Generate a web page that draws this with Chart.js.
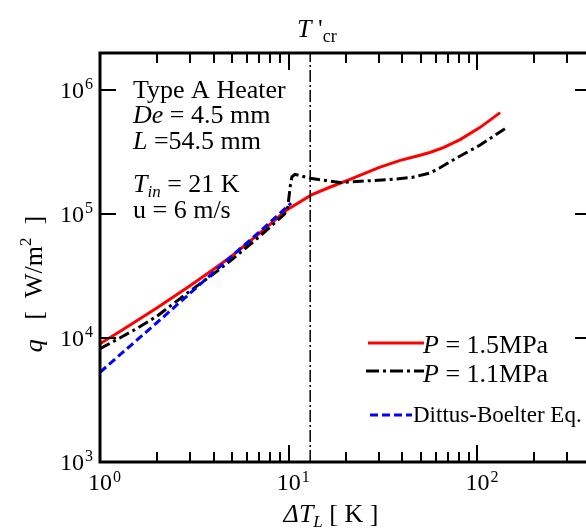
<!DOCTYPE html>
<html>
<head>
<meta charset="utf-8">
<script src="https://cdn.jsdelivr.net/npm/chart.js@4.4.1/dist/chart.umd.min.js"></script>
<style>
html, body { margin: 0; padding: 0; background: #fff; overflow: hidden; }
#wrap { width: 600px; height: 530px; }
</style>
</head>
<body>
<div id="wrap"><canvas id="grafico" width="600" height="530"></canvas></div>
<script>
// P = 1.5 MPa
const redX = [1, 1.3, 2, 3, 4, 5, 7, 9.76, 13.2, 16.5, 21, 24, 30, 39, 48, 56, 66, 81, 103, 132];
const redQ = [9.0e3, 1.15e4, 1.75e4, 2.65e4, 3.6e4, 4.6e4, 7.0e4, 1.08e5, 1.43e5, 1.65e5, 1.9e5, 2.07e5, 2.38e5, 2.72e5, 2.95e5, 3.15e5, 3.45e5, 4.0e5, 5.0e5, 6.6e5];
// P = 1.1 MPa
const blackX = [1, 1.5, 2, 3, 4, 5, 7, 9.5, 9.9, 10.2, 10.4, 10.8, 13, 18.7, 25, 34, 45, 56, 63, 81, 103, 143];
const blackQ = [8.2e3, 1.15e4, 1.5e4, 2.4e4, 3.3e4, 4.3e4, 6.6e4, 1.0e5, 1.15e5, 1.7e5, 2.0e5, 2.1e5, 1.95e5, 1.8e5, 1.85e5, 1.9e5, 1.98e5, 2.15e5, 2.36e5, 2.95e5, 3.6e5, 5.0e5];
// Dittus-Boelter
const dbX = [1, 2, 3, 5, 7, 10.3];
const dbQ = [5.3e3, 1.33e4, 2.3e4, 4.6e4, 7.2e4, 1.23e5];
// T'cr
const tcrX = [13, 13];
const tcrQ = [1e3, 2e6];

const xMajor = [1, 10, 100];
const xMinor = [2, 3, 4, 5, 6, 7, 8, 9, 20, 30, 40, 50, 60, 70, 80, 90, 200, 300];
const yMajor = [1e3, 1e4, 1e5, 1e6];
const xExp = ['0', '1', '2'];
const yExp = ['3', '4', '5', '6'];

const SERIF = '"Liberation Serif", "Times New Roman", serif';

function puntos(xs, ys) {
    return xs.map((x, i) => ({ x: x, y: ys[i] }));
}

// dibuja varios trozos de texto con estilos distintos
function trozos(ctx, x, y, partes, align) {
    let w = 0;
    partes.forEach(p => { ctx.font = p[1]; w += ctx.measureText(p[0]).width; });
    let cx = align === 'center' ? x - w / 2 : (align === 'right' ? x - w : x);
    partes.forEach(p => {
        ctx.font = p[1];
        ctx.fillText(p[0], cx, y + (p[2] || 0));
        cx += ctx.measureText(p[0]).width;
    });
}

const marco = {
    id: 'marco',
    afterDraw(chart) {
        const ctx = chart.ctx;
        const a = chart.chartArea;
        const sx = chart.scales.x;
        const sy = chart.scales.y;
        ctx.save();
        ctx.strokeStyle = '#000';
        ctx.fillStyle = '#000';
        ctx.lineWidth = 3;
        ctx.setLineDash([]);
        ctx.strokeRect(a.left, a.top, a.right - a.left, a.bottom - a.top);

        // ticks hacia dentro
        ctx.lineWidth = 2;
        ctx.beginPath();
        xMajor.forEach(v => {
            const px = Math.round(sx.getPixelForValue(v));
            ctx.moveTo(px, a.bottom); ctx.lineTo(px, a.bottom - 17);
            ctx.moveTo(px, a.top); ctx.lineTo(px, a.top + 17);
        });
        xMinor.forEach(v => {
            const px = Math.round(sx.getPixelForValue(v));
            ctx.moveTo(px, a.bottom); ctx.lineTo(px, a.bottom - 10);
            ctx.moveTo(px, a.top); ctx.lineTo(px, a.top + 10);
        });
        yMajor.forEach(v => {
            const py = Math.round(sy.getPixelForValue(v));
            ctx.moveTo(a.left, py); ctx.lineTo(a.left + 16, py);
            ctx.moveTo(a.right, py); ctx.lineTo(a.right - 16, py);
        });
        ctx.stroke();

        // etiquetas de los ejes
        ctx.textBaseline = 'alphabetic';
        const fBig = '24px ' + SERIF;
        const fExp = '16px ' + SERIF;
        xMajor.forEach((v, i) => {
            const px = sx.getPixelForValue(v);
            ctx.font = fBig;
            const w10 = ctx.measureText('10').width;
            ctx.fillText('10', px - w10 / 2, 490);
            ctx.font = fExp;
            ctx.fillText(xExp[i], px + w10 / 2 + 1, 482);
        });
        yMajor.forEach((v, i) => {
            const py = sy.getPixelForValue(v);
            ctx.font = fExp;
            const we = ctx.measureText(yExp[i]).width;
            ctx.fillText(yExp[i], 93 - we, py - 1);
            ctx.font = fBig;
            const w10 = ctx.measureText('10').width;
            ctx.fillText('10', 93 - we - 1 - w10, py + 8);
        });

        const f26 = '26px ' + SERIF;
        const i26 = 'italic 26px ' + SERIF;
        const i17 = 'italic 17px ' + SERIF;
        const f18 = '18px ' + SERIF;

        // titulo eje x
        trozos(ctx, 331, 522, [['\u0394T', i26], ['L', i17, 5], [' [ K ]', f26]], 'center');

        // titulo eje y
        ctx.save();
        ctx.translate(42, 284);
        ctx.rotate(-Math.PI / 2);
        trozos(ctx, 0, 0, [['q', i26], ['   [  W/m', f26], ['2', '17px ' + SERIF, -11], ['  ]', f26]], 'center');
        ctx.restore();

        // T'cr
        trozos(ctx, 297, 37, [['T', i26], [" '", f26], ['cr', f18, 5]], 'left');

        // anotaciones
        trozos(ctx, 133, 98, [['Type A Heater', f26]], 'left');
        trozos(ctx, 133, 123, [['De', i26], [' = 4.5 mm', f26]], 'left');
        trozos(ctx, 133, 149, [['L', i26], [' =54.5 mm', f26]], 'left');
        trozos(ctx, 133, 192, [['T', i26], ['in', i17, 5], [' = 21 K', f26]], 'left');
        trozos(ctx, 133, 218, [['u = 6 m/s', f26]], 'left');

        // leyenda
        ctx.lineWidth = 3;
        ctx.strokeStyle = '#ff0000';
        ctx.setLineDash([]);
        ctx.beginPath(); ctx.moveTo(368, 343); ctx.lineTo(424, 343); ctx.stroke();
        ctx.strokeStyle = '#000';
        ctx.setLineDash([13, 4, 3, 4]);
        ctx.beginPath(); ctx.moveTo(366, 371); ctx.lineTo(424, 371); ctx.stroke();
        ctx.strokeStyle = '#0000ff';
        ctx.setLineDash([8, 4]);
        ctx.beginPath(); ctx.moveTo(370, 415); ctx.lineTo(412, 415); ctx.stroke();
        ctx.setLineDash([]);
        trozos(ctx, 423, 353, [['P', i26], [' = 1.5MPa', f26]], 'left');
        trozos(ctx, 423, 382, [['P', i26], [' = 1.1MPa', f26]], 'left');
        trozos(ctx, 413, 422, [['Dittus-Boelter Eq.', '23px ' + SERIF]], 'left');
        ctx.restore();
    }
};

const ctx = document.getElementById('grafico').getContext('2d');
new Chart(ctx, {
    type: 'scatter',
    data: {
        datasets: [
            {
                data: puntos(tcrX, tcrQ),
                showLine: true,
                borderColor: '#000',
                borderWidth: 1.5,
                borderDash: [12, 3, 2, 3],
                pointRadius: 0
            },
            {
                data: puntos(dbX, dbQ),
                showLine: true,
                borderColor: '#0000ff',
                borderWidth: 3,
                borderDash: [8, 4],
                pointRadius: 0
            },
            {
                data: puntos(blackX, blackQ),
                showLine: true,
                borderColor: '#000',
                borderWidth: 3,
                borderDash: [11, 4, 3, 4],
                pointRadius: 0
            },
            {
                data: puntos(redX, redQ),
                showLine: true,
                borderColor: '#ff0000',
                borderWidth: 3,
                pointRadius: 0
            }
        ]
    },
    options: {
        responsive: false,
        animation: false,
        layout: { padding: { left: 100, right: 9, top: 53, bottom: 68 } },
        scales: {
            x: { type: 'logarithmic', min: 1, max: 400, display: false },
            y: { type: 'logarithmic', min: 1e3, max: 2e6, display: false }
        },
        plugins: {
            legend: { display: false },
            tooltip: { enabled: false }
        }
    },
    plugins: [marco]
});
</script>
</body>
</html>
